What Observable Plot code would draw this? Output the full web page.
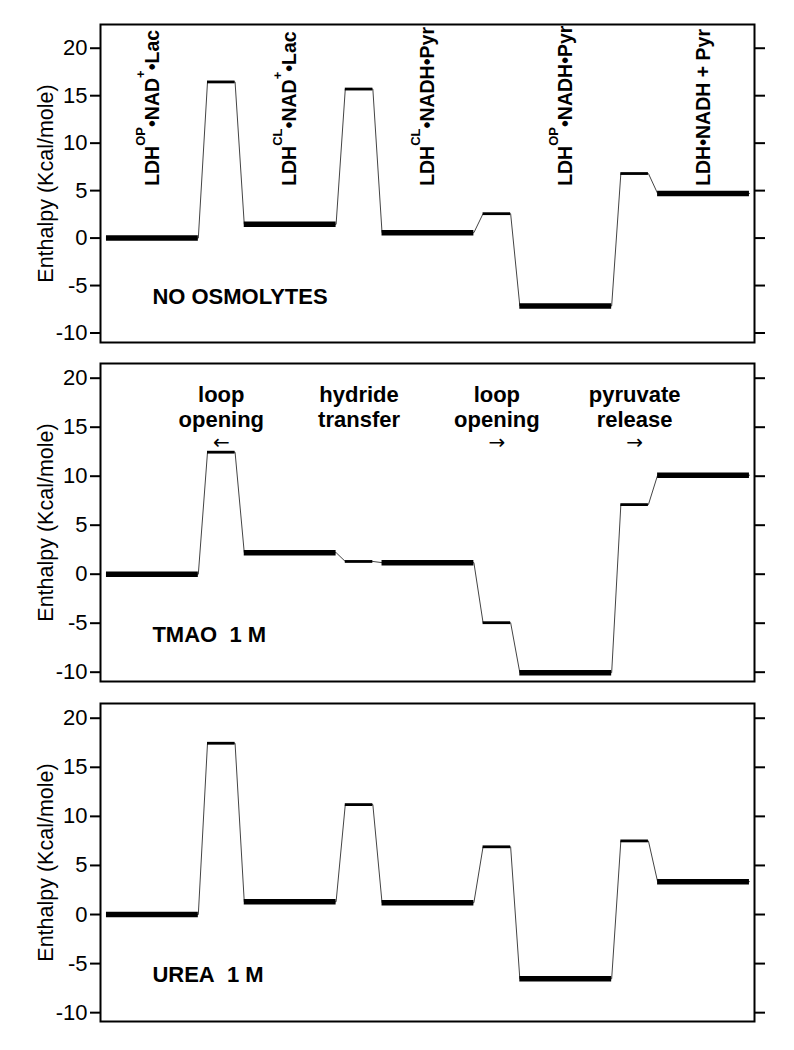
<!DOCTYPE html>
<html><head><meta charset="utf-8">
<script src="https://cdn.jsdelivr.net/npm/d3@7"></script>
<script src="https://cdn.jsdelivr.net/npm/@observablehq/plot@0.6"></script>
<style>body{margin:0;background:#fff} svg{display:block}</style>
</head><body><div id="chart"></div>
<script>
// ---- data ----
const groundStates = ["LDH^OP•NAD^+•Lac", "LDH^CL•NAD^+•Lac", "LDH^CL•NADH•Pyr", "LDH^OP•NADH•Pyr", "LDH•NADH + Pyr"];
const steps = ["loop\nopening", "hydride\ntransfer", "loop\nopening", "pyruvate\nrelease"];
const stepArrows = ["←", "", "→", "→"];
const panelNames = ["NO OSMOLYTES", "TMAO\u00a0\u00a01 M", "UREA\u00a0\u00a01 M"];
const groundNone = [0, 1.45, 0.57, -7.15, 4.7];
const tsNone = [16.45, 15.7, 2.57, 6.8];
const groundTMAO = [0, 2.2, 1.18, -10.05, 10.1];
const tsTMAO = [12.45, 1.3, -4.95, 7.1];
const groundUrea = [0, 1.3, 1.2, -6.55, 3.35];
const tsUrea = [17.45, 11.2, 6.9, 7.5];
const yTicks = [-10, -5, 0, 5, 10, 15, 20];
const yLabel = "Enthalpy (Kcal/mole)";

// ---- layout (reaction-coordinate units) ----
const GW = 10, TW = 3, GAP = 1, PERIOD = GW + TW + 2 * GAP;
const FONT = "'Liberation Sans', Arial, Helvetica, sans-serif";

function buildRows(ground, ts) {
  const rows = [];
  ground.forEach((y, k) => {
    rows.push({kind: "G", x0: k * PERIOD, x1: k * PERIOD + GW, y});
    if (k < ts.length) rows.push({kind: "T", x0: k * PERIOD + GW + GAP, x1: k * PERIOD + GW + GAP + TW, y: ts[k]});
  });
  return rows;
}

const panels = [
  {name: panelNames[0], ground: groundNone, ts: tsNone, domain: [-11, 22.5], height: 352, mt: 24, mb: 10, top: true},
  {name: panelNames[1], ground: groundTMAO, ts: tsTMAO, domain: [-10.95, 21.5], height: 340, mt: 11, mb: 11, mid: true},
  {name: panelNames[2], ground: groundUrea, ts: tsUrea, domain: [-10.9, 21.5], height: 340, mt: 11, mb: 11}
];

const chart = document.getElementById("chart");

panels.forEach(p => {
  const rows = buildRows(p.ground, p.ts);
  const pts = rows.flatMap(r => [{x: r.x0, y: r.y}, {x: r.x1, y: r.y}]);
  const marks = [
    Plot.line(pts, {x: "x", y: "y", stroke: "#444", strokeWidth: 1}),
    Plot.ruleY(rows.filter(r => r.kind === "G"), {y: "y", x1: "x0", x2: "x1", stroke: "#000", strokeWidth: 5.5}),
    Plot.ruleY(rows.filter(r => r.kind === "T"), {y: "y", x1: "x0", x2: "x1", stroke: "#000", strokeWidth: 2.8}),
    Plot.frame({stroke: "#000", strokeWidth: 2}),
    Plot.axisY({anchor: "left", ticks: yTicks, tickSize: 10, tickPadding: 3, fontSize: 22, label: null, strokeWidth: 2, tickFormat: d => String(d)}),
    Plot.axisY({anchor: "right", ticks: yTicks, tickSize: 10, tickFormat: () => "", label: null, strokeWidth: 2}),
    Plot.text([yLabel], {frameAnchor: "left", rotate: -90, dx: -54, textAnchor: "middle", fontSize: 21.5}),
    Plot.text([p.name], {x: 5, y: -6.2, textAnchor: "start", fontWeight: "bold", fontSize: 22})
  ];
  if (p.top) {
    marks.push(Plot.text(groundStates, {x: (d, i) => i * PERIOD + GW / 2, y: 5.5, text: d => d, rotate: -90, textAnchor: "start", fontWeight: "bold", fontSize: 19.5}));
  }
  if (p.mid) {
    const c = i => i * PERIOD + GW + GAP + TW / 2;
    marks.push(Plot.text(steps, {x: (d, i) => c(i), y: 17.1, text: d => d, fontWeight: "bold", fontSize: 22, lineHeight: 1.14}));
    marks.push(Plot.text(stepArrows, {x: (d, i) => c(i), y: 13.4, text: d => d, fontSize: 20, fontFamily: "'DejaVu Sans', sans-serif"}));
  }
  const svg = Plot.plot({
    width: 794,
    height: p.height,
    marginLeft: 100,
    marginRight: 40,
    marginTop: p.mt,
    marginBottom: p.mb,
    style: {fontFamily: FONT, color: "#000", background: "#fff"},
    x: {domain: [-0.65, 70.55], axis: null},
    y: {domain: p.domain},
    marks
  });
  chart.appendChild(svg);
});

// superscripts: "^XX" -> raised smaller tspan
const NS = "http://www.w3.org/2000/svg";
document.querySelectorAll("#chart text").forEach(t => {
  const s = t.textContent;
  if (!s.includes("^") || t.querySelector("tspan")) return;
  const parts = s.split(/\^([^•]+)/);
  t.textContent = "";
  let raised = false;
  parts.forEach((seg, i) => {
    if (!seg) return;
    const ts = document.createElementNS(NS, "tspan");
    ts.textContent = seg;
    if (i % 2 === 1) {
      ts.setAttribute("font-size", "13");
      ts.setAttribute("dy", "-14");
      raised = true;
    } else if (raised) {
      ts.setAttribute("dy", "14");
      raised = false;
    }
    t.appendChild(ts);
  });
});
</script></body></html>
